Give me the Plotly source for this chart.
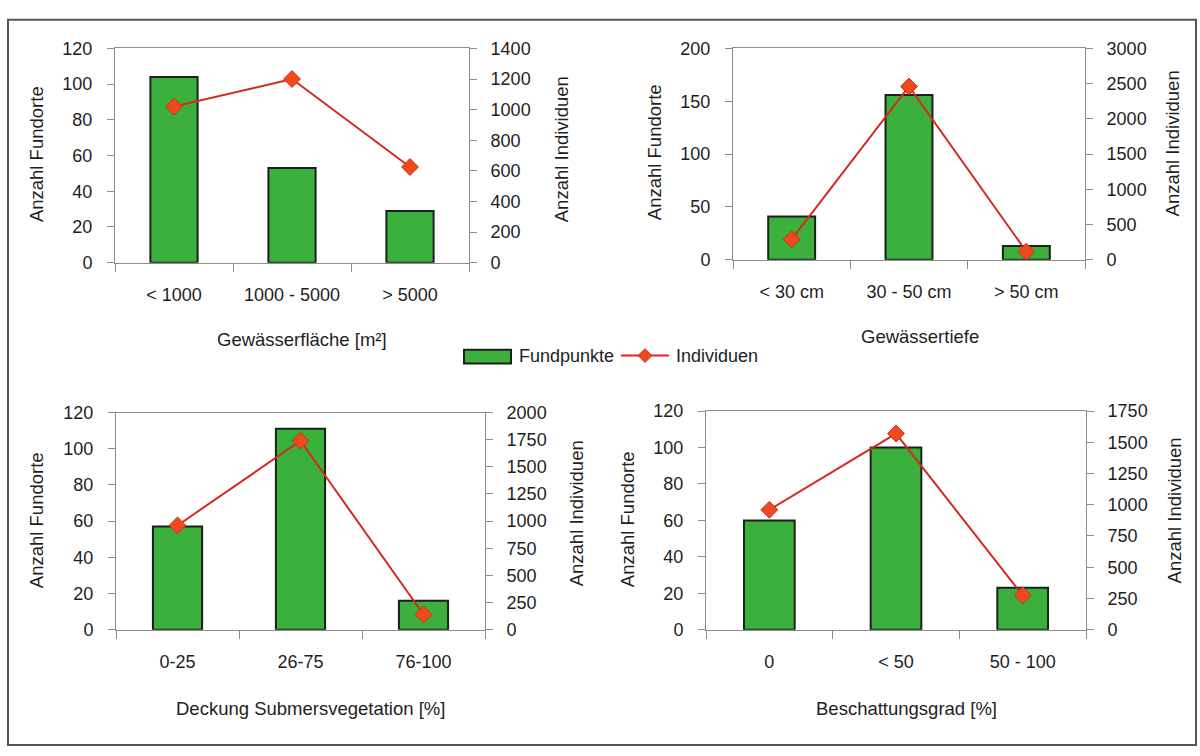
import plotly.graph_objects as go

# ---- data ----
cats_flaeche = ["< 1000", "1000 - 5000", "> 5000"]
fund_flaeche = [104, 53, 29]
ind_flaeche = [1020, 1200, 625]

cats_tiefe = ["< 30 cm", "30 - 50 cm", "> 50 cm"]
fund_tiefe = [41, 156, 13]
ind_tiefe = [290, 2460, 115]

cats_deckung = ["0-25", "26-75", "76-100"]
fund_deckung = [57, 111, 16]
ind_deckung = [960, 1740, 140]

cats_schatten = ["0", "< 50", "50 - 100"]
fund_schatten = [60, 100, 23]
ind_schatten = [960, 1570, 275]

x_titles = ["Gewässerfläche [m²]", "Gewässertiefe",
            "Deckung Submersvegetation [%]", "Beschattungsgrad [%]"]
left_ranges = [(0, 120, 20), (0, 200, 50), (0, 120, 20), (0, 120, 20)]
right_ranges = [(0, 1400, 200), (0, 3000, 500), (0, 2000, 250), (0, 1750, 250)]

W, H = 1200, 756
FONT = "Liberation Sans, Arial, sans-serif"
TICK_SIZE = 18
TITLE_SIZE = 18.5
BAR_GREEN = "#3bb03c"
BAR_EDGE = "#1c1f1c"
LINE_RED = "#d42a1e"
MARK_RED = "#ee4a1e"
AXIS_GREY = "#8c8c8c"
TXT = "#1e1e1e"

# plot-area boxes in pixels: (left, right, top, bottom)
boxes = [
    (115, 469, 39.5, 259.5),
    (733, 1085, 39.5, 256.5),
    (116, 485, 413.5, 636.5),
    (706, 1086, 412, 636.5),
]

panels = [
    (cats_flaeche, fund_flaeche, ind_flaeche),
    (cats_tiefe, fund_tiefe, ind_tiefe),
    (cats_deckung, fund_deckung, ind_deckung),
    (cats_schatten, fund_schatten, ind_schatten),
]

fig = go.Figure()
layout = dict(
    width=W, height=H,
    margin=dict(l=0, r=0, t=0, b=0),
    paper_bgcolor="white", plot_bgcolor="white",
    showlegend=False,
    font=dict(family=FONT, size=TICK_SIZE, color=TXT),
)

for i, ((cats, fund, ind), (l, r, t, b)) in enumerate(zip(panels, boxes)):
    n = i + 1
    xa = "x" if n == 1 else f"x{n}"
    ya = "y" if n == 1 else f"y{n}"
    yr = f"y{n + 4}"
    fig.add_trace(go.Bar(
        x=cats, y=fund, xaxis=xa, yaxis=ya, width=0.4,
        marker=dict(color=BAR_GREEN, line=dict(color=BAR_EDGE, width=2)),
        name="Fundpunkte",
    ))
    fig.add_trace(go.Scatter(
        x=cats, y=ind, xaxis=xa, yaxis=yr, mode="lines+markers",
        line=dict(color=LINE_RED, width=2),
        marker=dict(symbol="diamond", size=13, color=MARK_RED,
                    line=dict(color="#c8321a", width=1)),
        name="Individuen",
    ))
    xd = [l / W, r / W]
    yd = [1 - b / H, 1 - t / H]
    lo, hi, dt = left_ranges[i]
    rlo, rhi, rdt = right_ranges[i]
    xkey = "xaxis" if n == 1 else f"xaxis{n}"
    ykey = "yaxis" if n == 1 else f"yaxis{n}"
    layout[xkey] = dict(
        domain=xd, anchor=ya, type="category", range=[-0.5, 2.5],
        showline=True, linecolor=AXIS_GREY, linewidth=1, mirror=True,
        ticks="outside", tickson="boundaries", ticklen=8, tickcolor=AXIS_GREY,
        showgrid=False, zeroline=False, ticklabelstandoff=16, tickangle=0,
        tickfont=dict(size=TICK_SIZE, color=TXT),
    )
    layout[ykey] = dict(
        domain=yd, anchor=xa, range=[lo, hi], dtick=dt, tick0=0,
        showline=True, linecolor=AXIS_GREY, linewidth=1,
        ticks="outside", ticklen=7, tickcolor=AXIS_GREY,
        showgrid=False, zeroline=False, ticklabelstandoff=11,
        tickfont=dict(size=TICK_SIZE, color=TXT),
    )
    layout[f"yaxis{n + 4}"] = dict(
        domain=yd, anchor=xa, overlaying=ya, side="right",
        range=[rlo, rhi], dtick=rdt, tick0=0,
        showline=True, linecolor=AXIS_GREY, linewidth=1,
        ticks="outside", ticklen=7, tickcolor=AXIS_GREY,
        showgrid=False, zeroline=False, ticklabelstandoff=10,
        tickfont=dict(size=TICK_SIZE, color=TXT),
    )

fig.update_layout(**layout)


def px(x, y):
    return x / W, 1 - y / H


# axis titles
ann = []
y_titles = [
    ((36, 148), (561, 143)),
    ((654, 146), (1172, 137)),
    ((36, 524), (576, 517)),
    ((627, 523), (1174, 514)),
]
x_title_pos = [(302, 338), (920, 335), (310, 717), (906, 717)]
for (lp, rp), xt, xp in zip(y_titles, x_titles, x_title_pos):
    for (xx, yy), txt in ((lp, "Anzahl Fundorte"), (rp, "Anzahl Individuen")):
        ax, ay = px(xx, yy)
        ann.append(dict(x=ax, y=ay, xref="paper", yref="paper", text=txt,
                        textangle=-90, showarrow=False, xanchor="center",
                        yanchor="middle", font=dict(size=TITLE_SIZE, color=TXT)))
    ax, ay = px(*xp)
    ann.append(dict(x=ax, y=ay, xref="paper", yref="paper", text=xt,
                    showarrow=False, xanchor="center", yanchor="middle",
                    font=dict(size=TITLE_SIZE, color=TXT)))

# legend between the panel rows
lx, ly = px(517, 355)
ann.append(dict(x=lx, y=ly, xref="paper", yref="paper", text="Fundpunkte",
                showarrow=False, xanchor="left", yanchor="middle",
                font=dict(size=TICK_SIZE, color=TXT)))
lx, ly = px(674, 355)
ann.append(dict(x=lx, y=ly, xref="paper", yref="paper", text="Individuen",
                showarrow=False, xanchor="left", yanchor="middle",
                font=dict(size=TICK_SIZE, color=TXT)))

shapes = [
    # outer frame
    dict(type="rect", xref="paper", yref="paper",
         x0=8 / W, x1=1196 / W, y0=1 - 755 / H, y1=1 - 10 / H,
         line=dict(color="#555555", width=2), fillcolor="rgba(0,0,0,0)"),
    # legend bar swatch
    dict(type="rect", xref="paper", yref="paper",
         x0=464 / W, x1=511 / W, y0=1 - 363 / H, y1=1 - 349 / H,
         line=dict(color=BAR_EDGE, width=2), fillcolor=BAR_GREEN),
    # legend line sample
    dict(type="line", xref="paper", yref="paper",
         x0=621 / W, x1=669 / W, y0=1 - 355 / H, y1=1 - 355 / H,
         line=dict(color=LINE_RED, width=2)),
    # legend diamond marker
    dict(type="path", xref="paper", yref="paper",
         path=f"M {645 / W} {1 - 348 / H} L {652 / W} {1 - 355 / H} "
              f"L {645 / W} {1 - 362 / H} L {638 / W} {1 - 355 / H} Z",
         line=dict(color="#c8321a", width=1), fillcolor=MARK_RED),
]
fig.update_layout(annotations=ann, shapes=shapes)

fig.write_html("out.html")
